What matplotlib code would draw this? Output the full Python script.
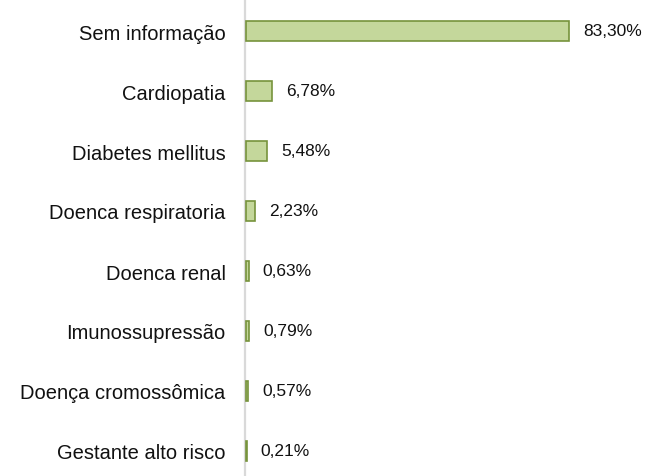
import matplotlib.pyplot as plt

categories = ["Sem informação", "Cardiopatia", "Diabetes mellitus", "Doenca respiratoria",
              "Doenca renal", "Imunossupressão", "Doença cromossômica", "Gestante alto risco"]
values = [83.30, 6.78, 5.48, 2.23, 0.63, 0.79, 0.57, 0.21]
labels = ["83,30%", "6,78%", "5,48%", "2,23%", "0,63%", "0,79%", "0,57%", "0,21%"]

plt.rcParams['font.family'] = ['Liberation Sans', 'DejaVu Sans']

fig = plt.figure(figsize=(6.47, 4.77), dpi=100)
ax = fig.add_axes([245 / 647, -5 / 477, 388 / 647, 480 / 477])

y = range(len(categories))
ax.barh(y, values, height=0.34, color="#C4D79B", edgecolor="#77933C",
        linewidth=1.2, zorder=3)

for i, (v, lab) in enumerate(zip(values, labels)):
    ax.annotate(lab, (v, i), xytext=(10, 0), textcoords="offset points",
                va="center", ha="left", fontsize=12.5, color="#111111")

ax.set_xlim(-0.3, 99.7)
ax.set_ylim(len(categories) - 0.5, -0.5)
ax.set_yticks(list(y))
ax.set_yticklabels(categories, fontsize=14.5, color="#111111")
ax.tick_params(axis="y", length=0, pad=14)
ax.set_xticks([])
for s in ["top", "right", "bottom"]:
    ax.spines[s].set_visible(False)
ax.spines["left"].set_color("#D9D9D9")
ax.spines["left"].set_linewidth(1.6)
ax.spines["left"].set_zorder(1)

fig.savefig("out.png", dpi=100)
